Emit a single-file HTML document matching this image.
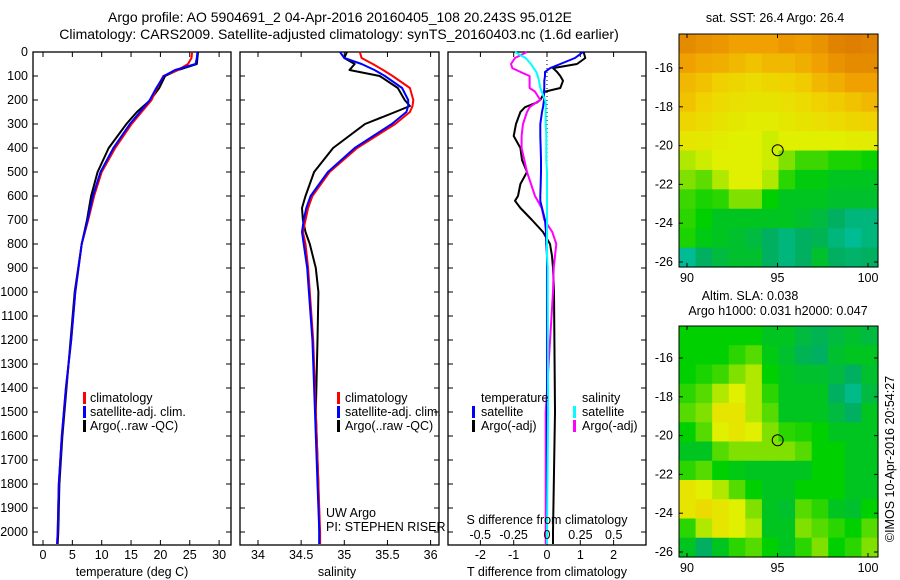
<!DOCTYPE html>
<html><head><meta charset="utf-8">
<style>
html,body{margin:0;padding:0;background:#fff;}
svg{display:block;font-family:"Liberation Sans",sans-serif;}
text{font-size:12.5px;fill:#000;}
</style></head>
<body>
<svg id="fig" width="900" height="580" viewBox="0 0 900 580" xmlns="http://www.w3.org/2000/svg"></svg>
<script>
// ---------- data ----------
const depthsT = [0,25,50,75,100,150,200,250,300,400,500,600,700,800,1000,1200,1400,1600,1800,2000,2050];
const tempClim = [25.4,25.3,24.7,23,20.5,19.4,18.5,16.8,15.1,12.3,10,8.7,7.7,6.6,5.5,4.8,3.9,3.2,2.7,2.5,2.4];
const tempSat  = [26.3,26.2,26,22.5,20.6,19.3,18.2,16.5,14.8,12,9.8,8.5,7.6,6.6,5.5,4.8,3.9,3.2,2.7,2.5,2.4];
const tempArgo = [26.4,26.3,26.2,23,20.8,19.8,18.3,16,14.2,11.2,9.3,8.2,7.5,6.6,5.4,4.7,4.0,3.3,2.8,2.6,2.5];

const depthsS = [0,25,50,75,100,150,200,225,250,300,400,500,600,650,700,750,800,900,1000,1200,1500,1800,2000,2050];
const salClim = [35.18,35.2,35.33,35.45,35.56,35.76,35.8,35.79,35.76,35.59,35.15,34.83,34.63,34.58,34.55,34.52,34.55,34.58,34.6,34.64,34.67,34.7,34.72,34.72];
const salSat  = [34.95,35.0,35.2,35.35,35.47,35.67,35.74,35.74,35.72,35.55,35.12,34.81,34.61,34.56,34.53,34.51,34.53,34.57,34.59,34.63,34.66,34.69,34.71,34.71];
const salArgo = [35.03,35.0,35.12,35.06,35.41,35.62,35.70,35.76,35.59,35.24,34.87,34.65,34.55,34.51,34.52,34.55,34.6,34.67,34.7,34.69,34.67,34.7,34.71,34.71];

const depthsD = [0,25,50,67,83,100,120,150,165,200,210,230,250,300,350,400,450,500,550,600,620,650,700,750,800,850,900,1000,1500,2000,2050];
const dTsat  = [1.08,0.84,0.4,0.1,-0.06,-0.06,-0.08,-0.08,-0.09,-0.09,-0.1,-0.12,-0.15,-0.2,-0.2,-0.19,-0.18,-0.18,-0.19,-0.2,-0.2,-0.15,-0.06,-0.03,-0.02,0,0,0,0,0,0];
const dTargo = [1.1,1.15,0.9,0.18,0.3,0.4,0.48,0.4,-0.06,-0.2,-0.3,-0.66,-0.8,-0.93,-1.0,-0.8,-0.75,-0.6,-0.8,-0.87,-0.96,-0.8,-0.45,-0.12,0.09,0.15,0.18,0.21,0.24,0.18,0.18];
const dSsat  = [-0.24,-0.16,-0.12,-0.1,-0.08,-0.07,-0.06,-0.05,-0.04,-0.015,-0.01,-0.01,-0.01,-0.01,-0.005,-0.005,-0.005,0,0,0,0,0,0,0,0,0,0.005,0.005,0.008,0,0];
const dSargo = [-0.15,-0.24,-0.27,-0.26,-0.2,-0.13,-0.13,-0.13,-0.09,-0.05,-0.08,-0.13,-0.15,-0.18,-0.19,-0.19,-0.17,-0.15,-0.12,-0.09,-0.07,-0.04,-0.02,0.04,0.07,0.06,0.05,0.045,-0.01,-0.01,-0.01];

const depthTicks = [0,100,200,300,400,500,600,700,800,900,1000,1100,1200,1300,1400,1500,1600,1700,1800,1900,2000];
const tempTicks = [0,5,10,15,20,25,30];
const salTicks = [34,34.5,35,35.5,36];
const dTTicks = [-2,-1,0,1,2];
const dSTicks = [-0.5,-0.25,0,0.25,0.5];
const lonTicks = [90,95,100];
const latTicks = [-16,-18,-20,-22,-24,-26];

const sstGrid = [
[0.9,0.88,0.87,0.85,0.85,0.85,0.87,0.86,0.88,0.92,0.93,0.92],
[0.85,0.83,0.82,0.8,0.78,0.8,0.8,0.82,0.85,0.88,0.9,0.9],
[0.8,0.78,0.75,0.72,0.7,0.72,0.74,0.76,0.8,0.82,0.85,0.85],
[0.78,0.74,0.7,0.68,0.66,0.66,0.68,0.7,0.74,0.76,0.78,0.8],
[0.72,0.7,0.66,0.64,0.62,0.62,0.64,0.66,0.68,0.7,0.72,0.74],
[0.65,0.64,0.62,0.6,0.6,0.58,0.6,0.6,0.6,0.6,0.62,0.62],
[0.55,0.58,0.6,0.6,0.6,0.58,0.5,0.42,0.42,0.38,0.38,0.36],
[0.5,0.46,0.55,0.6,0.6,0.55,0.4,0.33,0.33,0.3,0.3,0.3],
[0.42,0.38,0.4,0.5,0.5,0.35,0.3,0.3,0.3,0.28,0.28,0.28],
[0.4,0.35,0.3,0.3,0.3,0.3,0.3,0.28,0.25,0.2,0.15,0.15],
[0.38,0.32,0.3,0.28,0.25,0.2,0.15,0.2,0.22,0.15,0.1,0.15],
[0.1,0.2,0.25,0.28,0.28,0.2,0.15,0.2,0.28,0.2,0.18,0.2]];
const slaGrid = [
[0.35,0.35,0.35,0.35,0.35,0.3,0.3,0.25,0.22,0.25,0.28,0.25],
[0.35,0.35,0.35,0.4,0.45,0.32,0.28,0.22,0.2,0.28,0.3,0.3],
[0.35,0.38,0.42,0.5,0.55,0.35,0.3,0.28,0.28,0.25,0.2,0.28],
[0.4,0.45,0.55,0.6,0.55,0.4,0.3,0.3,0.3,0.2,0.12,0.25],
[0.45,0.5,0.65,0.65,0.55,0.45,0.3,0.3,0.3,0.25,0.2,0.3],
[0.35,0.45,0.6,0.65,0.6,0.5,0.4,0.38,0.35,0.3,0.3,0.3],
[0.3,0.3,0.45,0.5,0.5,0.5,0.5,0.45,0.35,0.35,0.3,0.3],
[0.4,0.45,0.35,0.32,0.3,0.3,0.3,0.3,0.35,0.35,0.3,0.3],
[0.65,0.6,0.55,0.45,0.35,0.3,0.3,0.35,0.35,0.35,0.3,0.3],
[0.65,0.7,0.65,0.6,0.5,0.3,0.28,0.45,0.4,0.3,0.28,0.35],
[0.4,0.55,0.65,0.6,0.55,0.3,0.3,0.5,0.45,0.4,0.35,0.45],
[0.3,0.2,0.3,0.4,0.45,0.35,0.3,0.4,0.5,0.35,0.4,0.5]];

// ---------- helpers ----------
const NS = "http://www.w3.org/2000/svg";
const svg = document.getElementById('fig');
function mk(tag, attrs, parent){
  const el = document.createElementNS(NS, tag);
  for (const k in attrs) el.setAttribute(k, attrs[k]);
  (parent||svg).appendChild(el);
  return el;
}
function txt(x,y,s,anchor,parent){
  const el = mk('text',{x:x,y:y,'text-anchor':anchor||'start'},parent);
  el.textContent = s;
  return el;
}
const Y0 = 52, Y1 = 545;
const yD = d => Y0 + 0.24*d;
const xT = t => 43 + 5.87*t;
const xS = s => 258 + 86.3*(s-34);
const xdT = t => 547 + 33.3*t;
const xdS = s => 547 + 133.5*s;

function line(xs, ys, xf, color, w, name){
  const pts = xs.map((v,i)=> xf(v).toFixed(1)+','+yD(ys[i]).toFixed(1)).join(' ');
  const el = mk('polyline',{points:pts,fill:'none',stroke:color,'stroke-width':w||2,'stroke-linejoin':'round'});
  
  
  return el;
}
function frame(x0,x1,name){
  const el = mk('rect',{x:x0,y:Y0,width:x1-x0,height:Y1-Y0,fill:'none',stroke:'#000','stroke-width':1.3});
  
  
}
function depthTickMarks(x0,x1){
  depthTicks.forEach(d=>{
    mk('line',{x1:x0,y1:yD(d),x2:x0+5,y2:yD(d),stroke:'#000'});
    mk('line',{x1:x1,y1:yD(d),x2:x1-5,y2:yD(d),stroke:'#000'});
  });
}
function xTickMarks(vals,xf){
  vals.forEach(v=>{
    mk('line',{x1:xf(v),y1:Y0,x2:xf(v),y2:Y0+5,stroke:'#000'});
    mk('line',{x1:xf(v),y1:Y1,x2:xf(v),y2:Y1-5,stroke:'#000'});
  });
}
function legendBar(x,y,color,name){
  const el = mk('rect',{x:x,y:y-10,width:3,height:12,fill:color});
  
  
}

// ---------- titles ----------
let t1 = txt(340,22,'Argo profile: AO 5904691_2 04-Apr-2016 20160405_108 20.243S 95.012E','middle');
t1.setAttribute('style','font-size:14px');


let t2 = txt(339,39,'Climatology: CARS2009. Satellite-adjusted climatology: synTS_20160403.nc (1.6d earlier)','middle');
t2.setAttribute('style','font-size:14px');



// ---------- panel 1 temperature ----------
frame(33,231,'temperature-panel');
depthTickMarks(33,231);
xTickMarks(tempTicks,xT);
depthTicks.forEach(d=>{
  const el = txt(28,yD(d)+4,String(d),'end');
  
  
});
tempTicks.forEach(v=>{
  const el = txt(xT(v),559,String(v),'middle');
  
  
});
let xl1 = txt(132,576,'temperature (deg C)','middle');


line(tempArgo,depthsT,xT,'#000',2,'temperature-argo-line');
line(tempClim,depthsT,xT,'#f00',2,'temperature-climatology-line');
line(tempSat,depthsT,xT,'#00f',2,'temperature-satellite-line');
legendBar(83,402,'#f00','legend-climatology-swatch');
legendBar(83,416,'#00f','legend-satellite-swatch');
legendBar(83,430,'#000','legend-argo-swatch');
[['climatology',402],['satellite-adj. clim.',416],['Argo(..raw -QC)',430]].forEach(a=>{
  const el = txt(90,a[1],a[0]);
  
  
});

// ---------- panel 2 salinity ----------
frame(240,439,'salinity-panel');
depthTickMarks(240,439);
xTickMarks(salTicks,xS);
salTicks.forEach(v=>{
  const el = txt(xS(v),559,String(v),'middle');
  
  
});
let xl2 = txt(337,576,'salinity','middle');


line(salArgo,depthsS,xS,'#000',2,'salinity-argo-line');
line(salClim,depthsS,xS,'#f00',2,'salinity-climatology-line');
line(salSat,depthsS,xS,'#00f',2,'salinity-satellite-line');
legendBar(337,402,'#f00','legend-climatology-swatch');
legendBar(337,416,'#00f','legend-satellite-swatch');
legendBar(337,430,'#000','legend-argo-swatch');
[['climatology',402],['satellite-adj. clim.',416],['Argo(..raw -QC)',430]].forEach(a=>{
  const el = txt(345,a[1],a[0]);
  
  
});
let uw = txt(326,517,'UW Argo');


let pi = txt(326,531,'PI: STEPHEN RISER');



// ---------- panel 3 differences ----------
frame(448,646,'difference-panel');
depthTickMarks(448,646);
xTickMarks(dTTicks,xdT);
let zl = mk('line',{x1:547,y1:Y0,x2:547,y2:Y1,stroke:'#000','stroke-dasharray':'1,3'});


line(dTargo,depthsD,xdT,'#000',2,'temperature-argo-difference-line');
line(dSargo,depthsD,xdS,'#f0f',2,'salinity-argo-difference-line');
line(dTsat,depthsD,xdT,'#00f',2,'temperature-satellite-difference-line');
line(dSsat,depthsD,xdS,'#0ff',2,'salinity-satellite-difference-line');
dTTicks.forEach(v=>{
  const el = txt(xdT(v),559,String(v),'middle');
  
  
});
dSTicks.forEach(v=>{
  const el = txt(xdS(v),539,String(v),'middle');
  
  
});
let sdl = txt(547,524,'S difference from climatology','middle');


let tdl = txt(547,576,'T difference from climatology','middle');


[['temperature',481,402],['satellite',481,416],['Argo(-adj)',481,430],['salinity',582,402],['satellite',582,416],['Argo(-adj)',582,430]].forEach(a=>{
  const el = txt(a[1],a[2],a[0]);
  
  
});
legendBar(472,416,'#00f','legend-t-satellite-swatch');
legendBar(472,430,'#000','legend-t-argo-swatch');
legendBar(573,416,'#0ff','legend-s-satellite-swatch');
legendBar(573,430,'#f0f','legend-s-argo-swatch');

// ---------- maps ----------
const cmapStops = [[0,[0,200,200]],[0.2,[0,176,96]],[0.35,[0,208,0]],[0.5,[128,224,0]],[0.6,[224,240,0]],[0.75,[240,208,0]],[0.85,[240,160,0]],[1,[208,96,0]]];
function cmap(v){
  for (let i=1;i<cmapStops.length;i++){
    if (v<=cmapStops[i][0]){
      const a=cmapStops[i-1], b=cmapStops[i], f=(v-a[0])/(b[0]-a[0]);
      const c=a[1].map((x,j)=>Math.round(x+(b[1][j]-x)*f));
      return 'rgb('+c.join(',')+')';
    }
  }
  return 'rgb(208,96,0)';
}
function drawMap(grid, mx0, my0, mx1, my1, latY, name, nameCells){
  const g = mk('g',{});
  
  
  const rows=grid.length, cols=grid[0].length;
  const cw=(mx1-mx0)/cols, ch=(my1-my0)/rows;
  grid.forEach((row,r)=>row.forEach((v,c)=>{
    const cell = mk('rect',{x:(mx0+c*cw).toFixed(2),y:(my0+r*ch).toFixed(2),width:(cw+0.6).toFixed(2),height:(ch+0.6).toFixed(2),fill:cmap(v)},g);
    
    
  }));
  const fr = mk('rect',{x:mx0,y:my0,width:mx1-mx0,height:my1-my0,fill:'none',stroke:'#000','stroke-width':1});
  
  
  const lonX = lon => 687 + 18.1*(lon-90);
  lonTicks.forEach(l=>{
    mk('line',{x1:lonX(l),y1:my1,x2:lonX(l),y2:my1-4,stroke:'#000'});
    mk('line',{x1:lonX(l),y1:my0,x2:lonX(l),y2:my0+4,stroke:'#000'});
    const el = txt(lonX(l),my1+15,String(l),'middle');
    
    
  });
  latTicks.forEach(l=>{
    const y = latY(l);
    mk('line',{x1:mx0,y1:y,x2:mx0+4,y2:y,stroke:'#000'});
    mk('line',{x1:mx1,y1:y,x2:mx1-4,y2:y,stroke:'#000'});
    const el = txt(mx0-6,y+4,String(l),'end');
    
    
  });
  const c = mk('circle',{cx:lonX(95.01),cy:latY(-20.24),r:5.5,fill:'none',stroke:'#000','stroke-width':1});
  
  
}
drawMap(sstGrid,679,34,878,267,lat=>68+(-16-lat)*19.4,'sst-map','sst-cell');
drawMap(slaGrid,679,326,878,557,lat=>358+(-16-lat)*19.4,'sla-map','sla-cell');

let st = txt(775,22,'sat. SST: 26.4 Argo: 26.4','middle');


let sl1 = txt(750,300,'Altim. SLA: 0.038','middle');


let sl2 = txt(778,315,'Argo h1000: 0.031 h2000: 0.047','middle');


let cr = txt(0,0,'©IMOS 10-Apr-2016 20:54:27','middle');
cr.setAttribute('transform','translate(894,459) rotate(-90)');


</script>
</body></html>
